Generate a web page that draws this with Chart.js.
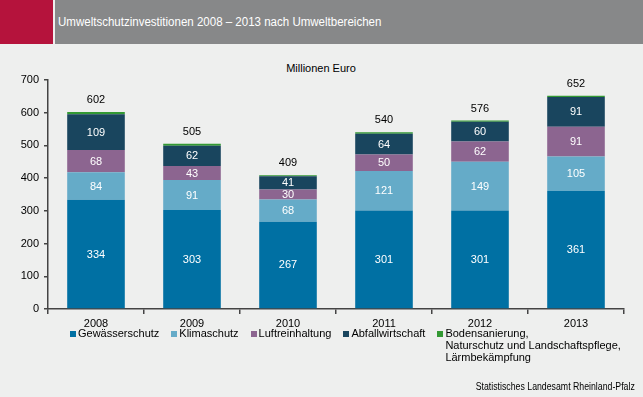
<!DOCTYPE html>
<html><head><meta charset="utf-8">
<script src="https://cdn.jsdelivr.net/npm/chart.js@4/dist/chart.umd.min.js"></script>
<style>
html,body{margin:0;padding:0;}
body{width:643px;height:397px;background:#eeefee;position:relative;overflow:hidden;font-family:"Liberation Sans",Arial,sans-serif;}
#red{position:absolute;left:0;top:0;width:53px;height:44px;background:#b5133c;}
#gray{position:absolute;left:55px;top:0;width:588px;height:44px;background:#878889;}
#title{position:absolute;left:58px;top:15px;color:#fff;font-size:12px;white-space:nowrap;transform:scaleX(0.96);transform-origin:0 0;}
#unit{position:absolute;left:0;width:643px;top:62px;font-size:11px;color:#000;}
#unit span{position:absolute;left:321px;transform:translateX(-50%);white-space:nowrap;}
canvas{position:absolute;left:0;top:0;}
#legend{position:absolute;left:70px;top:327px;display:flex;align-items:flex-start;font-size:11px;color:#000;line-height:12px;}
.li{display:flex;align-items:flex-start;margin-right:12px;}
.mk{width:6px;height:6px;margin-top:4px;margin-right:2px;flex:none;}
#src{position:absolute;right:8px;top:381px;font-size:10px;color:#000;white-space:nowrap;transform:scaleX(0.875);transform-origin:100% 0;}
</style></head>
<body>
<div id="red"></div><div id="gray"></div>
<div id="title">Umweltschutzinvestitionen 2008 – 2013 nach Umweltbereichen</div>
<div id="unit"><span>Millionen Euro</span></div>
<canvas id="c" width="643" height="397"></canvas>
<div id="legend"></div>
<div id="src">Statistisches Landesamt Rheinland-Pfalz</div>
<script>
const categories = ['2008','2009','2010','2011','2012','2013'];
const gewaesserschutz = [334,303,267,301,301,361];
const klimaschutz = [84,91,68,121,149,105];
const luftreinhaltung = [68,43,30,50,62,91];
const abfallwirtschaft = [109,62,41,64,60,91];
const bodensanierung = [7,6,3,4,4,4];
const totals = [602,505,409,540,576,652];
const seriesNames = ['Gewässerschutz','Klimaschutz','Luftreinhaltung','Abfallwirtschaft','Bodensanierung,\nNaturschutz und Landschaftspflege,\nLärmbekämpfung'];
const seriesColors = ['#0070a3','#65abc8','#8c6590','#19455e','#339933'];
const seriesData = [gewaesserschutz,klimaschutz,luftreinhaltung,abfallwirtschaft,bodensanierung];
const yTicks = {min:0,max:700,step:100};

const labelPlugin = {
  id:'labels',
  afterDatasetsDraw(chart){
    const ctx = chart.ctx;
    ctx.save();
    ctx.font = '11px "Liberation Sans", Arial, sans-serif';
    ctx.textAlign = 'center';
    ctx.textBaseline = 'middle';
    for(let d=0; d<4; d++){
      const meta = chart.getDatasetMeta(d);
      meta.data.forEach((el,i)=>{
        ctx.fillStyle = '#ffffff';
        ctx.fillText(String(chart.data.datasets[d].data[i]), el.x, (el.y+el.base)/2+0.5);
      });
    }
    const top = chart.getDatasetMeta(4);
    top.data.forEach((el,i)=>{
      ctx.fillStyle = '#000';
      ctx.fillText(String(totals[i]), el.x, el.y-12);
    });
    ctx.restore();
  }
};

new Chart(document.getElementById('c'),{
  type:'bar',
  data:{
    labels:categories,
    datasets:seriesData.map((d,i)=>({label:seriesNames[i],data:d,backgroundColor:seriesColors[i],borderWidth:0,categoryPercentage:1,barPercentage:0.6}))
  },
  options:{
    responsive:false,animation:false,
    layout:{padding:{left:0,right:19,top:80,bottom:0}},
    plugins:{legend:{display:false},tooltip:{enabled:false}},
    scales:{
      x:{stacked:true,
        grid:{display:true,drawOnChartArea:false,drawTicks:true,tickLength:5,color:'#444',offset:true,lineWidth:1.5},
        border:{display:true,color:'#444',width:1.5},
        ticks:{color:'#000',font:{size:11,family:'"Liberation Sans", Arial, sans-serif'},padding:3,maxRotation:0},
        afterFit:s=>{s.height=88;}
      },
      y:{stacked:true,min:yTicks.min,max:yTicks.max,
        grid:{display:true,drawOnChartArea:false,drawTicks:true,tickLength:4,color:'#444',lineWidth:1.5},
        border:{display:true,color:'#444',width:1.5},
        ticks:{stepSize:yTicks.step,color:'#000',font:{size:11,family:'"Liberation Sans", Arial, sans-serif'},padding:5},
        afterFit:s=>{s.width=48;}
      }
    }
  },
  plugins:[labelPlugin]
});

const lg = document.getElementById('legend');
seriesNames.forEach((n,i)=>{
  const it = document.createElement('div'); it.className='li';
  const mk = document.createElement('div'); mk.className='mk'; mk.style.background=seriesColors[i];
  const tx = document.createElement('div'); tx.innerHTML = n.split('\n').join('<br>');
  it.appendChild(mk); it.appendChild(tx); lg.appendChild(it);
});
</script>
</body></html>
